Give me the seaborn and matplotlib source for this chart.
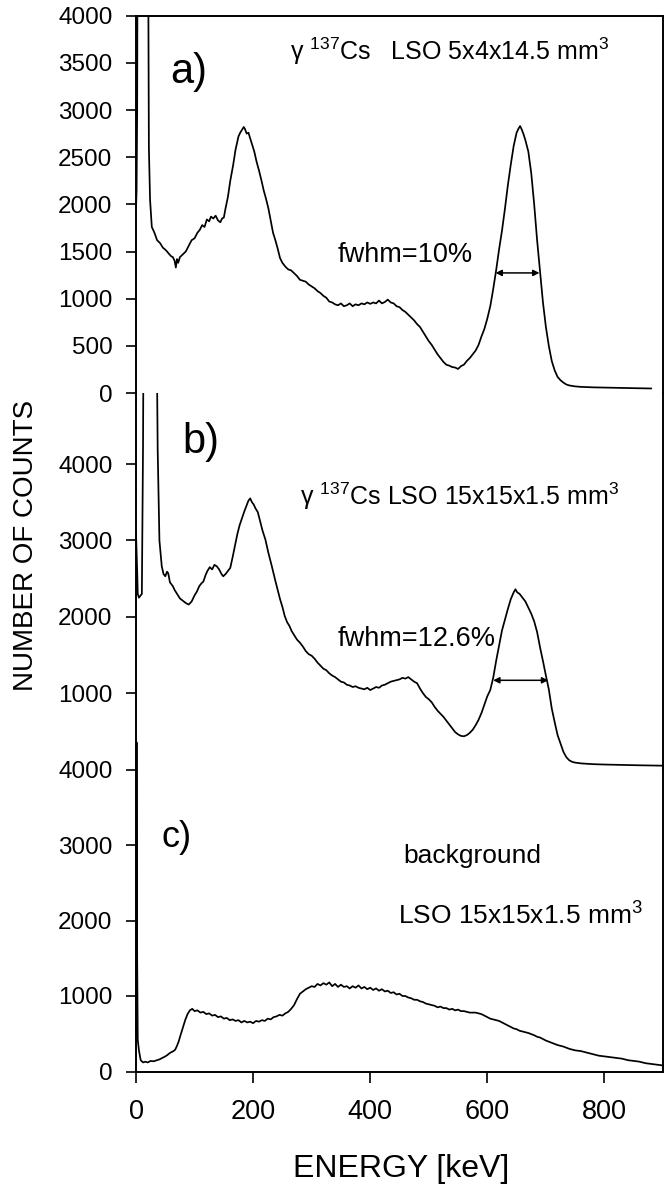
import numpy as np
import pandas as pd
import matplotlib
matplotlib.use("Agg")
import matplotlib.pyplot as plt
import seaborn as sns

# ---------------- data ----------------
# panel a) gamma 137Cs, LSO 5x4x14.5 mm3
energy_a = [0, 1, 2, 3, 20, 22, 24, 27, 30, 32, 36, 41, 46, 50, 53, 57, 60, 63, 66, 68,
            70, 72, 75, 80, 85, 90, 95, 100, 105, 109, 113, 117, 121, 125, 128, 132, 136,
            140, 144, 147, 150, 153, 157, 161, 166, 170, 175, 178, 181, 184, 186, 189, 192,
            195, 198, 202, 206, 210, 214, 218, 222, 226, 230, 234, 238, 242, 246, 250, 255,
            260, 265, 270, 275, 280, 285, 290, 295, 300, 305, 310, 315, 320, 325, 330, 335,
            340, 345, 350, 355, 360, 365, 370, 375, 380, 385, 390, 395, 400, 405, 410, 415,
            420, 425, 430, 435, 440, 445, 450, 455, 460, 465, 470, 475, 480, 485, 490, 495,
            500, 505, 510, 515, 520, 525, 530, 535, 540, 545, 550, 555, 560, 565, 570, 575,
            580, 585, 590, 595, 600, 605, 610, 615, 620, 625, 630, 635, 640, 645, 650, 653,
            656, 659, 662, 665, 670, 675, 680, 685, 690, 695, 700, 705, 710, 715, 720, 725,
            730, 735, 740, 750, 760, 780, 800, 820, 840, 860, 880]
counts_a = [1950, 2150, 3000, 6000, 6000, 2600, 2050, 1760, 1720, 1690, 1620, 1590, 1540, 1520,
            1500, 1470, 1450, 1440, 1400, 1330, 1420, 1380, 1440, 1470, 1500, 1560, 1620, 1640,
            1700, 1730, 1780, 1760, 1840, 1820, 1870, 1850, 1880, 1830, 1810, 1850, 1860, 1960,
            2080, 2250, 2420, 2580, 2720, 2760, 2790, 2820, 2800, 2750, 2760, 2700, 2640, 2560,
            2450, 2360, 2260, 2150, 2060, 1960, 1830, 1700, 1620, 1530, 1430, 1380, 1340, 1310,
            1300, 1270, 1240, 1200, 1190, 1180, 1150, 1130, 1110, 1080, 1060, 1030, 1010, 970,
            960, 940, 930, 950, 920, 930, 950, 920, 940, 930, 950, 940, 960, 945, 960, 950,
            980, 950, 965, 990, 960, 950, 920, 910, 880, 860, 830, 800, 770, 730, 700, 650,
            600, 550, 510, 460, 410, 370, 330, 300, 290, 275, 270, 255, 285, 300, 340, 370,
            410, 450, 510, 600, 680, 790, 920, 1100, 1300, 1520, 1720, 1950, 2200, 2420, 2620,
            2760, 2800, 2830, 2790, 2740, 2680, 2560, 2330, 2000, 1620, 1290, 960, 700, 500,
            340, 240, 170, 135, 110, 90, 80, 70, 65, 60, 58, 55, 52, 50, 48]

# panel b) gamma 137Cs, LSO 15x15x1.5 mm3
energy_b = [0, 2, 3, 5, 10, 12, 13, 35, 37, 40, 44, 47, 50, 53, 55, 58, 61, 63, 66, 70, 75,
            80, 85, 90, 95, 100, 104, 108, 112, 115, 119, 122, 126, 130, 134, 138, 142, 146,
            149, 153, 157, 161, 165, 169, 173, 177, 181, 185, 189, 192, 195, 198, 201, 204,
            208, 212, 216, 221, 226, 232, 238, 242, 246, 250, 254, 258, 262, 266, 270, 275,
            280, 285, 290, 295, 300, 305, 310, 315, 320, 325, 330, 335, 340, 345, 350, 355,
            360, 365, 370, 375, 380, 385, 390, 395, 400, 405, 410, 415, 420, 425, 430, 435,
            440, 445, 450, 455, 460, 465, 470, 475, 480, 485, 490, 495, 500, 505, 510, 515,
            520, 525, 530, 535, 540, 545, 550, 555, 560, 565, 570, 575, 580, 585, 590, 595,
            600, 605, 610, 615, 620, 625, 630, 635, 640, 645, 648, 651, 655, 660, 665, 670,
            675, 680, 685, 690, 695, 700, 705, 710, 715, 720, 725, 730, 735, 740, 745, 750,
            760, 780, 800, 830, 860, 900]
counts_b = [3100, 2600, 2300, 2250, 2300, 4230, 6000, 6000, 4200, 3000, 2660, 2560, 2530, 2590,
            2570, 2450, 2420, 2400, 2350, 2300, 2240, 2210, 2180, 2160, 2200, 2280, 2330, 2400,
            2440, 2460, 2550, 2600, 2650, 2620, 2680, 2660, 2620, 2560, 2530, 2560, 2600, 2640,
            2780, 2930, 3080, 3200, 3290, 3380, 3460, 3520, 3550, 3500, 3470, 3420, 3370, 3250,
            3130, 3010, 2840, 2660, 2470, 2350, 2230, 2130, 2010, 1930, 1880, 1810, 1760, 1700,
            1660, 1610, 1550, 1510, 1490, 1450, 1400, 1360, 1320, 1300, 1260, 1230, 1210, 1180,
            1150, 1140, 1110, 1100, 1080, 1090, 1070, 1060, 1050, 1070, 1040, 1060, 1080, 1070,
            1100, 1110, 1130, 1150, 1160, 1170, 1180, 1200, 1190, 1210, 1180, 1150, 1130, 1060,
            1000, 950, 920, 880, 820, 770, 730, 690, 640, 590, 540, 490, 460, 440, 435, 450,
            480, 520, 580, 650, 740, 850, 960, 1040, 1200, 1420, 1620, 1820, 1960, 2100, 2230,
            2320, 2360, 2320, 2300, 2250, 2200, 2120, 2040, 1940, 1800, 1600, 1420, 1230, 1050,
            800, 620, 450, 340, 230, 160, 120, 100, 90, 80, 70, 65, 60, 55, 50]

# panel c) background, LSO 15x15x1.5 mm3
energy_c = [0, 1, 2, 3, 5, 8, 12, 16, 20, 25, 30, 36, 40, 45, 50, 53, 57, 60, 64, 67, 70, 73,
            76, 80, 84, 88, 92, 96, 100, 105, 110, 115, 120, 125, 130, 135, 140, 145, 150, 155,
            160, 165, 170, 175, 180, 185, 190, 195, 200, 205, 210, 215, 220, 225, 230, 235, 240,
            245, 250, 255, 260, 265, 270, 275, 280, 285, 290, 295, 300, 305, 310, 315, 320, 325,
            330, 335, 340, 345, 350, 355, 360, 365, 370, 375, 380, 385, 390, 395, 400, 405, 410,
            415, 420, 425, 430, 435, 440, 445, 450, 455, 460, 465, 470, 475, 480, 485, 490, 495,
            500, 505, 510, 515, 520, 525, 530, 535, 540, 545, 550, 555, 560, 565, 570, 575, 580,
            585, 590, 595, 600, 605, 610, 615, 620, 625, 630, 635, 640, 645, 650, 655, 660, 665,
            670, 675, 680, 685, 690, 695, 700, 710, 720, 730, 740, 750, 760, 770, 780, 790, 800,
            810, 820, 830, 840, 850, 860, 870, 880, 890, 900]
counts_c = [500, 4360, 1500, 420, 280, 150, 120, 130, 120, 140, 135, 150, 160, 180, 200, 215,
            240, 255, 270, 290, 340, 400, 480, 580, 680, 760, 810, 830, 800, 810, 780, 790, 760,
            770, 740, 750, 720, 730, 700, 710, 680, 690, 670, 680, 650, 670, 650, 660, 640, 670,
            660, 680, 670, 700, 690, 720, 730, 750, 740, 770, 790, 830, 880, 960, 1030, 1060,
            1090, 1110, 1130, 1120, 1160, 1140, 1170, 1150, 1180, 1130, 1160, 1120, 1150, 1120,
            1130, 1100, 1130, 1110, 1140, 1100, 1120, 1090, 1110, 1080, 1100, 1070, 1090, 1060,
            1070, 1040, 1050, 1020, 1030, 1000, 1000, 980, 970, 950, 950, 930, 920, 900, 890,
            880, 870, 850, 860, 840, 840, 820, 830, 810, 820, 800, 800, 790, 780, 780, 780, 770,
            760, 740, 720, 700, 690, 680, 670, 650, 630, 610, 590, 570, 560, 540, 530, 520, 510,
            495, 480, 460, 450, 430, 410, 380, 350, 330, 300, 280, 270, 250, 230, 210, 200, 190,
            180, 170, 150, 140, 130, 110, 100, 90, 80]

# tick values and labels
x_ticks = [0, 200, 400, 600, 800]
y_ticks_a = [0, 500, 1000, 1500, 2000, 2500, 3000, 3500, 4000]
y_ticks_b = [1000, 2000, 3000, 4000]
y_ticks_c = [0, 1000, 2000, 3000, 4000]

# fwhm arrows (energy from, energy to, counts level)
fwhm_a = [614, 689, 1273]
fwhm_b = [610, 704, 1168]

# ---------------- style ----------------
sns.set_style("ticks")
plt.rcParams["font.family"] = ["Liberation Sans", "DejaVu Sans"]
plt.rcParams["mathtext.fontset"] = "custom"
plt.rcParams["mathtext.rm"] = "Liberation Sans"
plt.rcParams["mathtext.it"] = "Liberation Sans:italic"
plt.rcParams["mathtext.bf"] = "Liberation Sans:bold"
plt.rcParams["text.color"] = "black"
plt.rcParams["axes.labelcolor"] = "black"
plt.rcParams["xtick.color"] = "black"
plt.rcParams["ytick.color"] = "black"

W, H = 666, 1184
fig = plt.figure(figsize=(W / 100, H / 100), dpi=100)

left = 136 / W
width = (663 - 136) / W


def rect(top_px, bot_px):
    return [left, 1 - bot_px / H, width, (bot_px - top_px) / H]


ax_a = fig.add_axes(rect(15.7, 393))
ax_b = fig.add_axes(rect(393, 769.5))
ax_c = fig.add_axes(rect(769.5, 1071.5))

df_a = pd.DataFrame({"E": energy_a, "N": counts_a})
df_b = pd.DataFrame({"E": energy_b, "N": counts_b})
df_c = pd.DataFrame({"E": energy_c, "N": counts_c})

lw = 1.25
for ax, df in [(ax_a, df_a), (ax_b, df_b), (ax_c, df_c)]:
    sns.lineplot(data=df, x="E", y="N", ax=ax, color="black", lw=lw,
                 estimator=None, sort=False)
    ax.set_xlim(0, 900)
    ax.set_xlabel("")
    ax.set_ylabel("")
    for s in ax.spines.values():
        s.set_linewidth(1.4)
        s.set_color("black")
    ax.tick_params(axis="y", direction="out", length=7, width=1.2,
                   labelsize=17.5, pad=10, colors="black")

ax_c.lines[0].set_clip_on(False)

ax_a.set_ylim(0, 4000)
ax_b.set_ylim(0, 4930)
ax_c.set_ylim(0, 4000)
ax_a.set_yticks(y_ticks_a)
ax_b.set_yticks(y_ticks_b)
ax_c.set_yticks(y_ticks_c)

for ax in (ax_a, ax_b):
    ax.tick_params(axis="x", bottom=False, labelbottom=False)
    ax.spines["bottom"].set_visible(False)
for ax in (ax_b, ax_c):
    ax.spines["top"].set_visible(False)

ax_c.set_xticks(x_ticks)
ax_c.tick_params(axis="x", direction="out", length=8, width=1.2,
                 labelsize=19.5, pad=12, colors="black")

# panel labels
ax_a.text(58, 3289, "a)", fontsize=30, va="baseline", ha="left")
ax_b.text(80, 4144, "b)", fontsize=30, va="baseline", ha="left")
ax_c.text(44, 2979, "c)", fontsize=26, va="baseline", ha="left")

# annotations
ax_a.text(263, 3533, "γ $^{137}$Cs   LSO 5x4x14.5 mm$^3$", fontsize=18,
          va="baseline", ha="left")
ax_b.text(280, 3463, "γ $^{137}$Cs LSO 15x15x1.5 mm$^3$", fontsize=18,
          va="baseline", ha="left")
ax_a.text(344, 1390, "fwhm=10%", fontsize=19.5, va="baseline", ha="left")
ax_b.text(344, 1615, "fwhm=12.6%", fontsize=19.5, va="baseline", ha="left")
ax_c.text(456, 2767, "background", fontsize=19, va="baseline", ha="left")
ax_c.text(448, 1944, "LSO 15x15x1.5 mm$^3$", fontsize=19, va="baseline", ha="left")

arrow_props = dict(arrowstyle="<|-|>", lw=1.1, color="black", mutation_scale=9,
                   shrinkA=0, shrinkB=0)
ax_a.annotate("", xy=(fwhm_a[1], fwhm_a[2]), xytext=(fwhm_a[0], fwhm_a[2]),
              arrowprops=arrow_props)
ax_b.annotate("", xy=(fwhm_b[1], fwhm_b[2]), xytext=(fwhm_b[0], fwhm_b[2]),
              arrowprops=arrow_props)

# axis titles
fig.text(26 / W, 1 - 545 / H, "NUMBER OF COUNTS", rotation=90, fontsize=20,
         ha="center", va="center")
fig.text(401 / W, 1 - 1177 / H, "ENERGY [keV]", fontsize=23, ha="center",
         va="baseline")

fig.savefig("out.png", dpi=100)
